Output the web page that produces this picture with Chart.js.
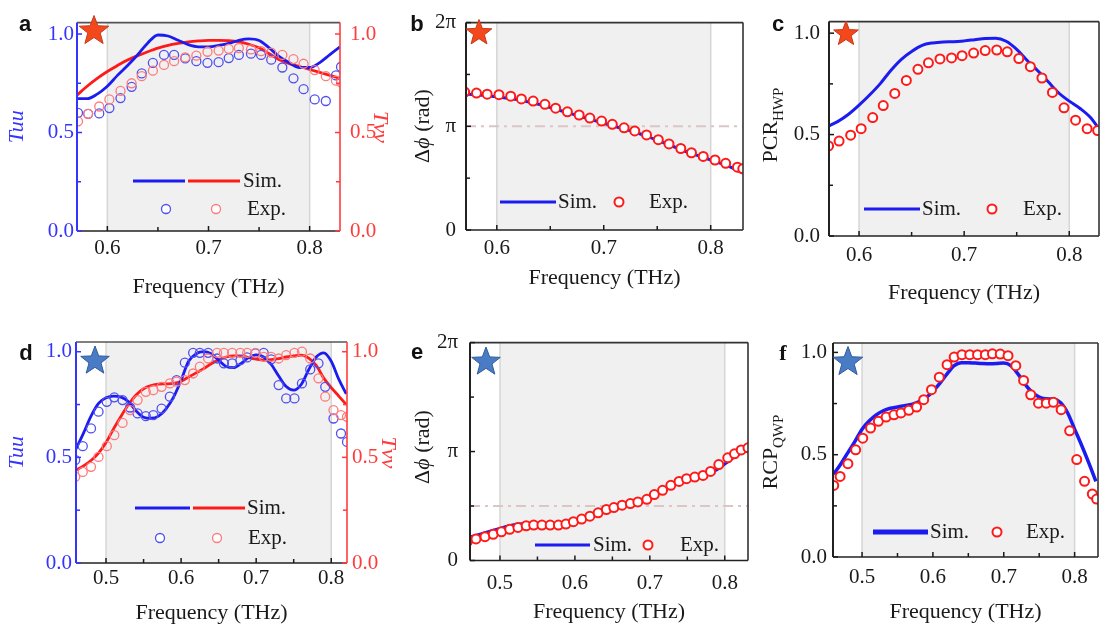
<!DOCTYPE html>
<html>
<head>
<meta charset="utf-8">
<script src="https://cdn.jsdelivr.net/npm/chart.js@4.4.1/dist/chart.umd.min.js"></script>
<style>
  body { margin: 0; background: #fff; }
  #fig { position: relative; width: 1100px; height: 637px; overflow: hidden; font-family: "Liberation Serif", serif; }
  #fig canvas { position: absolute; }
  .tag { position: absolute; font: bold 22px "Liberation Sans", Arial, sans-serif; color: #111; transform: translate(-50%, -50%); }
  .ytitle { position: absolute; font-size: 22px; color: #1a1a1a; white-space: nowrap; transform: translate(-50%, -50%) rotate(-90deg); }
  .ytitle sub { font-size: 15px; }
</style>
</head>
<body>
<div id="fig">
  <canvas id="ca"></canvas>
  <canvas id="cb"></canvas>
  <canvas id="cc"></canvas>
  <canvas id="cd"></canvas>
  <canvas id="ce"></canvas>
  <canvas id="cf"></canvas>

  <div class="tag" style="left:25px;top:24px">a</div>
  <div class="tag" style="left:417px;top:24px">b</div>
  <div class="tag" style="left:778px;top:24px">c</div>
  <div class="tag" style="left:26px;top:353px">d</div>
  <div class="tag" style="left:417px;top:352px">e</div>
  <div class="tag" style="left:783px;top:353px;font-family:'Liberation Serif',serif">f</div>

  <div class="ytitle" style="left:422px;top:126px">&Delta;<i>&#981;</i> (rad)</div>
  <div class="ytitle" style="left:772px;top:125px">PCR<sub>HWP</sub></div>
  <div class="ytitle" style="left:422px;top:447px">&Delta;<i>&#981;</i> (rad)</div>
  <div class="ytitle" style="left:772px;top:452px">RCP<sub>QWP</sub></div>
</div>

<script>
// ---- data ----
// a: HWP transmission (Tuu blue, Tvv red)
const aSimFreq = [0.57,0.58,0.59,0.60,0.61,0.62,0.63,0.64,0.65,0.66,0.67,0.68,0.69,0.70,0.71,0.72,0.73,0.74,0.75,0.76,0.77,0.78,0.79,0.80,0.81,0.82,0.83];
const aSimTuu = [0.672,0.672,0.695,0.735,0.79,0.84,0.895,0.955,0.995,0.99,0.968,0.946,0.935,0.935,0.942,0.952,0.968,0.975,0.967,0.93,0.885,0.854,0.83,0.83,0.855,0.895,0.935];
const aSimTvv = [0.69,0.735,0.775,0.81,0.84,0.868,0.89,0.91,0.928,0.942,0.952,0.96,0.965,0.968,0.968,0.966,0.96,0.948,0.93,0.90,0.87,0.85,0.835,0.82,0.805,0.79,0.775];
const aExpFreq = [0.571,0.581,0.592,0.602,0.613,0.624,0.634,0.645,0.656,0.666,0.677,0.688,0.699,0.710,0.720,0.730,0.742,0.752,0.762,0.773,0.784,0.794,0.805,0.816,0.826,0.831];
const aExpTuu = [0.60,0.595,0.597,0.624,0.675,0.732,0.80,0.854,0.894,0.894,0.876,0.862,0.854,0.857,0.878,0.894,0.90,0.894,0.87,0.83,0.775,0.72,0.668,0.66,0.79,0.833];
const aExpTvv = [0.557,0.595,0.632,0.668,0.711,0.75,0.786,0.814,0.843,0.862,0.881,0.89,0.91,0.916,0.925,0.929,0.922,0.913,0.906,0.894,0.873,0.849,0.817,0.786,0.763,0.755];

// b: HWP phase difference, in units of pi
const bSimFreq = [0.57,0.58,0.59,0.60,0.61,0.62,0.63,0.64,0.65,0.66,0.67,0.68,0.69,0.70,0.71,0.72,0.73,0.74,0.75,0.76,0.77,0.78,0.79,0.80,0.81,0.82,0.83];
const bSimPhase = [1.31,1.305,1.295,1.285,1.27,1.255,1.235,1.21,1.18,1.15,1.12,1.09,1.06,1.03,1.0,0.97,0.94,0.905,0.865,0.825,0.785,0.745,0.71,0.675,0.64,0.60,0.55];
const bExpFreq = [0.570,0.581,0.591,0.602,0.613,0.623,0.634,0.645,0.655,0.666,0.677,0.687,0.698,0.708,0.719,0.729,0.740,0.751,0.761,0.772,0.782,0.793,0.804,0.814,0.825,0.830];
const bExpPhase = [1.33,1.32,1.31,1.305,1.29,1.264,1.243,1.212,1.175,1.14,1.109,1.079,1.05,1.019,0.985,0.955,0.917,0.871,0.83,0.786,0.745,0.709,0.675,0.643,0.606,0.59];

// c: PCR of the HWP
const cSimFreq = [0.57,0.58,0.59,0.60,0.61,0.62,0.63,0.64,0.65,0.66,0.67,0.68,0.69,0.70,0.71,0.72,0.73,0.74,0.75,0.76,0.77,0.78,0.79,0.80,0.81,0.82,0.83];
const cSimPCR = [0.54,0.565,0.60,0.645,0.695,0.75,0.815,0.87,0.91,0.94,0.952,0.957,0.958,0.962,0.968,0.974,0.975,0.96,0.92,0.865,0.815,0.76,0.705,0.665,0.63,0.585,0.515];
const cExpFreq = [0.571,0.581,0.592,0.602,0.613,0.623,0.634,0.645,0.656,0.666,0.677,0.688,0.698,0.709,0.720,0.731,0.741,0.752,0.763,0.774,0.784,0.795,0.806,0.817,0.827];
const cExpPCR = [0.444,0.468,0.497,0.529,0.584,0.643,0.703,0.767,0.822,0.854,0.873,0.878,0.889,0.902,0.914,0.917,0.908,0.875,0.835,0.779,0.708,0.632,0.571,0.529,0.52];

// d: QWP transmission (Tuu blue, Tvv red)
const dSimFreq = [0.46,0.47,0.48,0.49,0.50,0.51,0.52,0.53,0.54,0.55,0.56,0.57,0.58,0.59,0.60,0.61,0.62,0.63,0.64,0.65,0.66,0.67,0.68,0.69,0.70,0.71,0.72,0.73,0.74,0.75,0.76,0.77,0.78,0.79,0.80,0.81,0.82];
const dSimTuu = [0.54,0.615,0.695,0.755,0.782,0.79,0.785,0.763,0.72,0.69,0.685,0.695,0.73,0.785,0.865,0.955,0.99,1.0,0.99,0.96,0.93,0.925,0.945,0.972,0.985,0.975,0.94,0.885,0.835,0.818,0.845,0.915,0.975,0.995,0.955,0.87,0.80];
const dSimTvv = [0.44,0.46,0.485,0.52,0.57,0.635,0.695,0.75,0.795,0.825,0.84,0.847,0.848,0.85,0.86,0.88,0.90,0.92,0.943,0.962,0.975,0.98,0.98,0.972,0.965,0.96,0.962,0.967,0.975,0.98,0.984,0.97,0.935,0.875,0.83,0.79,0.75];
const dExpFreq = [0.459,0.469,0.48,0.49,0.501,0.511,0.522,0.532,0.542,0.553,0.563,0.574,0.585,0.594,0.605,0.616,0.625,0.636,0.648,0.657,0.668,0.679,0.688,0.699,0.71,0.72,0.73,0.74,0.751,0.761,0.772,0.783,0.792,0.803,0.813,0.821];
const dExpTuu = [0.487,0.553,0.637,0.716,0.763,0.784,0.771,0.736,0.708,0.695,0.70,0.731,0.787,0.866,0.948,0.995,0.995,0.995,0.968,0.945,0.945,0.96,0.973,0.992,0.995,0.964,0.842,0.779,0.779,0.85,0.916,0.945,0.834,0.684,0.613,0.573];
const dExpTvv = [0.408,0.431,0.455,0.502,0.553,0.605,0.663,0.724,0.771,0.81,0.818,0.834,0.85,0.858,0.866,0.897,0.929,0.968,0.995,0.995,0.995,0.995,0.995,0.995,0.976,0.976,0.968,0.984,0.995,1.0,0.968,0.874,0.787,0.724,0.70,0.692];

// e: QWP phase difference, in units of pi
const eSimFreq = [0.46,0.47,0.48,0.49,0.50,0.51,0.52,0.53,0.54,0.55,0.56,0.57,0.58,0.59,0.60,0.61,0.62,0.63,0.64,0.65,0.66,0.67,0.68,0.69,0.70,0.71,0.72,0.73,0.74,0.75,0.76,0.77,0.78,0.79,0.80,0.81,0.82,0.83];
const eSimPhase = [0.215,0.235,0.255,0.275,0.295,0.315,0.33,0.337,0.338,0.335,0.333,0.333,0.338,0.35,0.37,0.39,0.415,0.44,0.465,0.485,0.505,0.52,0.535,0.555,0.585,0.625,0.665,0.70,0.73,0.75,0.765,0.78,0.80,0.835,0.885,0.935,0.98,1.02];
const eExpFreq = [0.457,0.468,0.48,0.491,0.502,0.513,0.524,0.535,0.545,0.556,0.567,0.578,0.588,0.598,0.609,0.62,0.631,0.642,0.652,0.663,0.674,0.684,0.696,0.706,0.717,0.728,0.739,0.749,0.76,0.771,0.781,0.792,0.804,0.813,0.822,0.831];
const eExpPhase = [0.179,0.198,0.219,0.24,0.264,0.286,0.304,0.319,0.325,0.325,0.325,0.325,0.334,0.356,0.38,0.407,0.438,0.468,0.486,0.508,0.523,0.538,0.562,0.605,0.644,0.69,0.726,0.751,0.766,0.781,0.818,0.881,0.942,0.979,1.015,1.034];

// f: RCP of the QWP
const fSimFreq = [0.46,0.47,0.48,0.49,0.50,0.51,0.52,0.53,0.54,0.55,0.56,0.57,0.58,0.59,0.60,0.61,0.62,0.63,0.64,0.65,0.66,0.67,0.68,0.69,0.70,0.71,0.72,0.73,0.74,0.75,0.76,0.77,0.78,0.79,0.80,0.81,0.82,0.83];
const fSimRCP = [0.405,0.455,0.51,0.565,0.625,0.665,0.695,0.715,0.727,0.733,0.74,0.746,0.758,0.778,0.81,0.85,0.895,0.935,0.95,0.95,0.948,0.946,0.945,0.946,0.948,0.935,0.895,0.845,0.805,0.782,0.773,0.772,0.755,0.705,0.625,0.545,0.46,0.37];
const fExpFreq = [0.46,0.469,0.48,0.491,0.501,0.512,0.523,0.534,0.545,0.555,0.566,0.577,0.587,0.598,0.609,0.62,0.63,0.641,0.652,0.663,0.674,0.684,0.695,0.706,0.717,0.728,0.738,0.749,0.76,0.77,0.781,0.793,0.803,0.814,0.825,0.831];
const fExpRCP = [0.35,0.394,0.456,0.524,0.581,0.63,0.663,0.684,0.695,0.704,0.717,0.733,0.769,0.818,0.879,0.94,0.977,0.989,0.989,0.989,0.989,0.993,0.992,0.984,0.935,0.863,0.793,0.752,0.752,0.756,0.72,0.617,0.476,0.37,0.308,0.283];

// ---- tick labels ----
const hwpFreqTicks = [0.6, 0.7, 0.8];
const hwpFreqMinor = [0.65, 0.75];
const qwpFreqTicks = [0.5, 0.6, 0.7, 0.8];
const qwpFreqMinor = [0.55, 0.65, 0.75];
const unitTicks = [0, 0.5, 1.0];
const unitMinor = [0.25, 0.75];
const phaseTicks = [0, 1, 2];
const phaseMinor = [0.5, 1.5];
const phaseLabels = ['0', '\u03c0', '2\u03c0'];

// ---- styling ----
const INK = '#1a1a1a';
const BLUE = '#1c1cf0';
const RED = '#ff1a1a';
const BLUE_AX = '#3434ff';
const RED_AX = '#ff3c3c';
const TICK_FONT = { family: 'Liberation Serif', size: 21 };
const TITLE_FONT = { family: 'Liberation Serif', size: 22 };
const TITLE_IT = { family: 'Liberation Serif', size: 22, style: 'italic' };
const ORANGE_STAR = ['#f2481c', '#c8381a'];
const BLUE_STAR = ['#4a7cc6', '#2f5b9c'];

function pts(xs, ys) { return xs.map((x, i) => ({ x: x, y: ys[i] })); }

function simLine(xs, ys, color, width, axis) {
  return { label: 'Sim.', data: pts(xs, ys), showLine: true, borderColor: color, backgroundColor: color,
           borderWidth: width, pointRadius: 0, cubicInterpolationMode: 'monotone', yAxisID: axis || 'y' };
}
function expDots(xs, ys, color, fill, width, axis) {
  return { label: 'Exp.', data: pts(xs, ys), showLine: false, borderColor: color, backgroundColor: fill,
           pointRadius: 4.5, pointBorderColor: color, pointBackgroundColor: fill, pointBorderWidth: width,
           yAxisID: axis || 'y' };
}

// extra drawing: shaded band, reference line, frame, inward ticks, star, inset legend
const decoCfg = {};
function drawStar(ctx, cx, cy, R, fill, edge) {
  ctx.beginPath();
  for (let i = 0; i < 10; i++) {
    const r = i % 2 ? R * 0.42 : R;
    const a = -Math.PI / 2 + i * Math.PI / 5;
    ctx.lineTo(cx + r * Math.cos(a), cy + r * Math.sin(a));
  }
  ctx.closePath();
  ctx.fillStyle = fill; ctx.fill();
  ctx.strokeStyle = edge; ctx.lineWidth = 1; ctx.stroke();
}
const decoPlugin = {
  id: 'deco',
  beforeDatasetsDraw(chart) {
    const d = decoCfg[chart.canvas.id];
    if (!d) return;
    const { ctx, chartArea: ca, scales } = chart;
    ctx.save();
    const x0 = scales.x.getPixelForValue(d.shade[0]);
    const x1 = scales.x.getPixelForValue(d.shade[1]);
    ctx.fillStyle = '#f0f0f0';
    ctx.fillRect(x0, ca.top, x1 - x0, ca.bottom - ca.top);
    ctx.strokeStyle = '#d6d6d6';
    ctx.lineWidth = 1.5;
    [x0, x1].forEach(px => { ctx.beginPath(); ctx.moveTo(px, ca.top); ctx.lineTo(px, ca.bottom); ctx.stroke(); });
    if (d.refLine !== undefined) {
      const py = scales.y.getPixelForValue(d.refLine);
      ctx.strokeStyle = '#dcc5c5';
      ctx.lineWidth = 2;
      ctx.setLineDash([10, 5, 3, 5]);
      ctx.beginPath(); ctx.moveTo(ca.left, py); ctx.lineTo(ca.right, py); ctx.stroke();
    }
    ctx.restore();
  },
  afterDraw(chart) {
    const d = decoCfg[chart.canvas.id];
    if (!d) return;
    const { ctx, chartArea: ca, scales } = chart;
    ctx.save();
    // frame
    const f = d.frame;
    ctx.lineWidth = 1.6;
    const seg = (c, x1, y1, x2, y2) => { ctx.strokeStyle = c; ctx.beginPath(); ctx.moveTo(x1, y1); ctx.lineTo(x2, y2); ctx.stroke(); };
    seg(f.top, ca.left, ca.top, ca.right, ca.top);
    seg(f.bottom, ca.left, ca.bottom, ca.right, ca.bottom);
    seg(f.right, ca.right, ca.top, ca.right, ca.bottom);
    ctx.lineWidth = 2;
    seg(f.left, ca.left, ca.top, ca.left, ca.bottom);
    // inward ticks
    ctx.lineWidth = 1.5;
    d.ticks.forEach(t => {
      const sc = scales[t.axis];
      t.major.concat(t.minor).forEach((v, i) => {
        const len = i < t.major.length ? 5 : 4;
        const p = sc.getPixelForValue(v);
        if (t.side === 'bottom') seg(t.color, p, ca.bottom, p, ca.bottom - len);
        else if (t.side === 'left') seg(t.color, ca.left, p, ca.left + len, p);
        else seg(t.color, ca.right, p, ca.right - len, p);
      });
    });
    // star
    const s = d.star;
    drawStar(ctx, s.x - d.ox, s.y - d.oy, s.R, s.colors[0], s.colors[1]);
    // legend
    ctx.font = '21px "Liberation Serif"';
    ctx.textBaseline = 'middle';
    d.legend.forEach(it => {
      const x = it.x - d.ox, y = it.y - d.oy;
      if (it.kind === 'line') {
        ctx.strokeStyle = it.color; ctx.lineWidth = it.w;
        ctx.beginPath(); ctx.moveTo(x, y); ctx.lineTo(it.x2 - d.ox, y); ctx.stroke();
      } else if (it.kind === 'dot') {
        ctx.strokeStyle = it.color; ctx.lineWidth = it.w; ctx.fillStyle = '#fff';
        ctx.beginPath(); ctx.arc(x, y, 4.5, 0, Math.PI * 2); ctx.fill(); ctx.stroke();
      } else {
        ctx.fillStyle = INK; ctx.fillText(it.text, x, y);
      }
    });
    ctx.restore();
  }
};
Chart.register(decoPlugin);

function yScale(position, s, width) {
  return {
    type: 'linear', position: position, min: 0, max: s.max,
    afterBuildTicks: sc => { sc.ticks = s.ticks.map(v => ({ value: v })); },
    afterFit: sc => { sc.width = width; },
    grid: { display: false, drawTicks: false },
    border: { display: false },
    ticks: { padding: s.pad, color: s.color, font: TICK_FONT,
             callback: s.labels ? (v => s.labels[s.ticks.indexOf(v)]) : (v => v.toFixed(1)) },
    title: s.title
      ? { display: true, text: s.title, color: s.color, font: TITLE_IT, padding: { top: s.titlePad, bottom: 0 } }
      : { display: false }
  };
}

function buildChart(p) {
  const cv = document.getElementById(p.id);
  cv.width = p.w; cv.height = p.h;
  cv.style.left = p.ox + 'px'; cv.style.top = p.oy + 'px';
  const rightGap = p.ox + p.w - p.area.r;
  const scales = {
    x: {
      type: 'linear', min: p.xMin, max: p.xMax,
      afterBuildTicks: s => { s.ticks = p.xTicks.map(v => ({ value: v })); },
      afterFit: s => { s.height = p.oy + p.h - p.area.b; },
      grid: { display: false, drawTicks: false },
      border: { display: false },
      ticks: { padding: p.xPad, color: INK, font: TICK_FONT, callback: v => v.toFixed(1) },
      title: { display: true, text: 'Frequency (THz)', color: INK, font: TITLE_FONT,
               padding: { top: 0, bottom: p.oy + p.h - p.xTitleY - 13.2 } }
    },
    y: yScale('left', p.y, p.area.l - p.ox)
  };
  if (p.y2) scales.y2 = yScale('right', p.y2, rightGap);

  decoCfg[p.id] = {
    ox: p.ox, oy: p.oy, shade: p.shade, refLine: p.refLine, frame: p.frame,
    star: p.star, legend: p.legend,
    ticks: [
      { axis: 'x', side: 'bottom', major: p.xTicks, minor: p.xMinor, color: INK },
      { axis: 'y', side: 'left', major: p.y.ticks, minor: p.y.minor, color: p.y.color }
    ].concat(p.y2 ? [{ axis: 'y2', side: 'right', major: p.y2.ticks, minor: p.y2.minor, color: p.y2.color }] : [])
  };

  return new Chart(cv, {
    type: 'scatter',
    data: { datasets: p.datasets },
    options: {
      responsive: false, animation: false, devicePixelRatio: 1, events: [],
      layout: { autoPadding: false,
                padding: { left: 0, top: p.area.t - p.oy, right: p.y2 ? 0 : rightGap, bottom: 0 } },
      plugins: { legend: { display: false }, tooltip: { enabled: false } },
      scales: scales
    }
  });
}

const darkFrame = { top: '#333', bottom: '#222', left: '#222', right: '#333' };
const dualFrame = { top: '#555', bottom: '#222', left: BLUE_AX, right: RED_AX };

// a
buildChart({
  id: 'ca', ox: 0, oy: 0, w: 400, h: 318, area: { l: 77, t: 13, r: 340, b: 231 },
  xMin: 0.57, xMax: 0.83, xTicks: hwpFreqTicks, xMinor: hwpFreqMinor, xPad: 5, xTitleY: 287,
  y: { max: 1.058, ticks: unitTicks, minor: unitMinor, color: BLUE_AX, pad: 3, title: 'Tuu', titlePad: 3.8 },
  y2: { max: 1.058, ticks: unitTicks, minor: unitMinor, color: RED_AX, pad: 10, title: 'Tvv', titlePad: 6.8 },
  shade: [0.6, 0.8], frame: dualFrame,
  star: { x: 94, y: 31, R: 15.5, colors: ORANGE_STAR },
  legend: [
    { kind: 'line', x: 133, x2: 185, y: 181, color: BLUE, w: 3 },
    { kind: 'line', x: 188, x2: 240, y: 181, color: RED, w: 3 },
    { kind: 'text', text: 'Sim.', x: 243, y: 181 },
    { kind: 'dot', x: 166, y: 209, color: '#5050f0', w: 1.3 },
    { kind: 'dot', x: 216, y: 209, color: '#ff7a7a', w: 1.3 },
    { kind: 'text', text: 'Exp.', x: 247, y: 209 }
  ],
  datasets: [
    expDots(aExpFreq, aExpTvv, '#ff7a7a', 'rgba(255,255,255,0)', 1.3, 'y2'),
    expDots(aExpFreq, aExpTuu, '#5050f0', 'rgba(255,255,255,0)', 1.3, 'y'),
    simLine(aSimFreq, aSimTuu, BLUE, 2.8, 'y'),
    simLine(aSimFreq, aSimTvv, RED, 2.8, 'y2')
  ]
});

// b
buildChart({
  id: 'cb', ox: 400, oy: 0, w: 358, h: 318, area: { l: 466, t: 13, r: 743, b: 230 },
  xMin: 0.5712, xMax: 0.8302, xTicks: hwpFreqTicks, xMinor: hwpFreqMinor, xPad: 6, xTitleY: 278,
  y: { max: 2, ticks: phaseTicks, minor: phaseMinor, labels: phaseLabels, color: INK, pad: 10 },
  shade: [0.6, 0.8], refLine: 1, frame: darkFrame,
  star: { x: 479, y: 33, R: 13.5, colors: ORANGE_STAR },
  legend: [
    { kind: 'line', x: 500, x2: 556, y: 202, color: BLUE, w: 3 },
    { kind: 'text', text: 'Sim.', x: 558, y: 202 },
    { kind: 'dot', x: 619, y: 202, color: RED, w: 2 },
    { kind: 'text', text: 'Exp.', x: 649, y: 202 }
  ],
  datasets: [
    expDots(bExpFreq, bExpPhase, RED, '#fff', 2),
    simLine(bSimFreq, bSimPhase, BLUE, 3)
  ]
});

// c
buildChart({
  id: 'cc', ox: 758, oy: 0, w: 342, h: 318, area: { l: 829, t: 14, r: 1099, b: 236 },
  xMin: 0.5714, xMax: 0.8283, xTicks: hwpFreqTicks, xMinor: hwpFreqMinor, xPad: 6.5, xTitleY: 293,
  y: { max: 1.057, ticks: unitTicks, minor: unitMinor, color: INK, pad: 9 },
  shade: [0.6, 0.8], frame: darkFrame,
  star: { x: 846, y: 34, R: 13, colors: ORANGE_STAR },
  legend: [
    { kind: 'line', x: 864, x2: 920, y: 209, color: BLUE, w: 3 },
    { kind: 'text', text: 'Sim.', x: 922, y: 209 },
    { kind: 'dot', x: 992, y: 209, color: RED, w: 2 },
    { kind: 'text', text: 'Exp.', x: 1023, y: 209 }
  ],
  datasets: [
    expDots(cExpFreq, cExpPCR, RED, '#fff', 2),
    simLine(cSimFreq, cSimPCR, BLUE, 3)
  ]
});

// d
buildChart({
  id: 'cd', ox: 0, oy: 318, w: 405, h: 319, area: { l: 76, t: 342, r: 347, b: 563 },
  xMin: 0.46, xMax: 0.821, xTicks: qwpFreqTicks, xMinor: qwpFreqMinor, xPad: 3, xTitleY: 613,
  y: { max: 1.046, ticks: unitTicks, minor: unitMinor, color: BLUE_AX, pad: 4, title: 'Tuu', titlePad: 3.8 },
  y2: { max: 1.046, ticks: unitTicks, minor: unitMinor, color: RED_AX, pad: 5, title: 'Tvv', titlePad: 3.8 },
  shade: [0.5, 0.8], frame: dualFrame,
  star: { x: 95, y: 361, R: 15, colors: BLUE_STAR },
  legend: [
    { kind: 'line', x: 135, x2: 190, y: 508, color: BLUE, w: 3 },
    { kind: 'line', x: 193, x2: 245, y: 508, color: RED, w: 3 },
    { kind: 'text', text: 'Sim.', x: 247, y: 508 },
    { kind: 'dot', x: 160, y: 538, color: '#5050f0', w: 1.3 },
    { kind: 'dot', x: 217, y: 538, color: '#ff7a7a', w: 1.3 },
    { kind: 'text', text: 'Exp.', x: 248, y: 538 }
  ],
  datasets: [
    expDots(dExpFreq, dExpTvv, '#ff7a7a', 'rgba(255,255,255,0)', 1.3, 'y2'),
    expDots(dExpFreq, dExpTuu, '#5050f0', 'rgba(255,255,255,0)', 1.3, 'y'),
    simLine(dSimFreq, dSimTuu, BLUE, 2.8, 'y'),
    simLine(dSimFreq, dSimTvv, RED, 2.8, 'y2')
  ]
});

// e
buildChart({
  id: 'ce', ox: 405, oy: 318, w: 355, h: 319, area: { l: 470, t: 342, r: 748, b: 560.5 },
  xMin: 0.46, xMax: 0.831, xTicks: qwpFreqTicks, xMinor: qwpFreqMinor, xPad: 10.5, xTitleY: 612.7,
  y: { max: 2, ticks: phaseTicks, minor: phaseMinor, labels: phaseLabels, color: INK, pad: 12 },
  shade: [0.5, 0.8], refLine: 0.5, frame: darkFrame,
  star: { x: 486, y: 362, R: 15, colors: BLUE_STAR },
  legend: [
    { kind: 'line', x: 535, x2: 590, y: 545, color: BLUE, w: 3 },
    { kind: 'text', text: 'Sim.', x: 593, y: 545 },
    { kind: 'dot', x: 648, y: 545, color: RED, w: 2 },
    { kind: 'text', text: 'Exp.', x: 680, y: 545 }
  ],
  datasets: [
    expDots(eExpFreq, eExpPhase, RED, '#fff', 2),
    simLine(eSimFreq, eSimPhase, BLUE, 3)
  ]
});

// f
buildChart({
  id: 'cf', ox: 760, oy: 318, w: 340, h: 319, area: { l: 833, t: 343, r: 1098, b: 557 },
  xMin: 0.459, xMax: 0.833, xTicks: qwpFreqTicks, xMinor: qwpFreqMinor, xPad: 8, xTitleY: 612.7,
  y: { max: 1.046, ticks: unitTicks, minor: unitMinor, color: INK, pad: 6 },
  shade: [0.5, 0.8], frame: darkFrame,
  star: { x: 848, y: 362, R: 15.5, colors: BLUE_STAR },
  legend: [
    { kind: 'line', x: 873, x2: 928, y: 532, color: BLUE, w: 5 },
    { kind: 'text', text: 'Sim.', x: 930, y: 532 },
    { kind: 'dot', x: 997, y: 532, color: RED, w: 2 },
    { kind: 'text', text: 'Exp.', x: 1026, y: 532 }
  ],
  datasets: [
    expDots(fExpFreq, fExpRCP, RED, '#fff', 2),
    simLine(fSimFreq, fSimRCP, BLUE, 3.5)
  ]
});
</script>
</body>
</html>
